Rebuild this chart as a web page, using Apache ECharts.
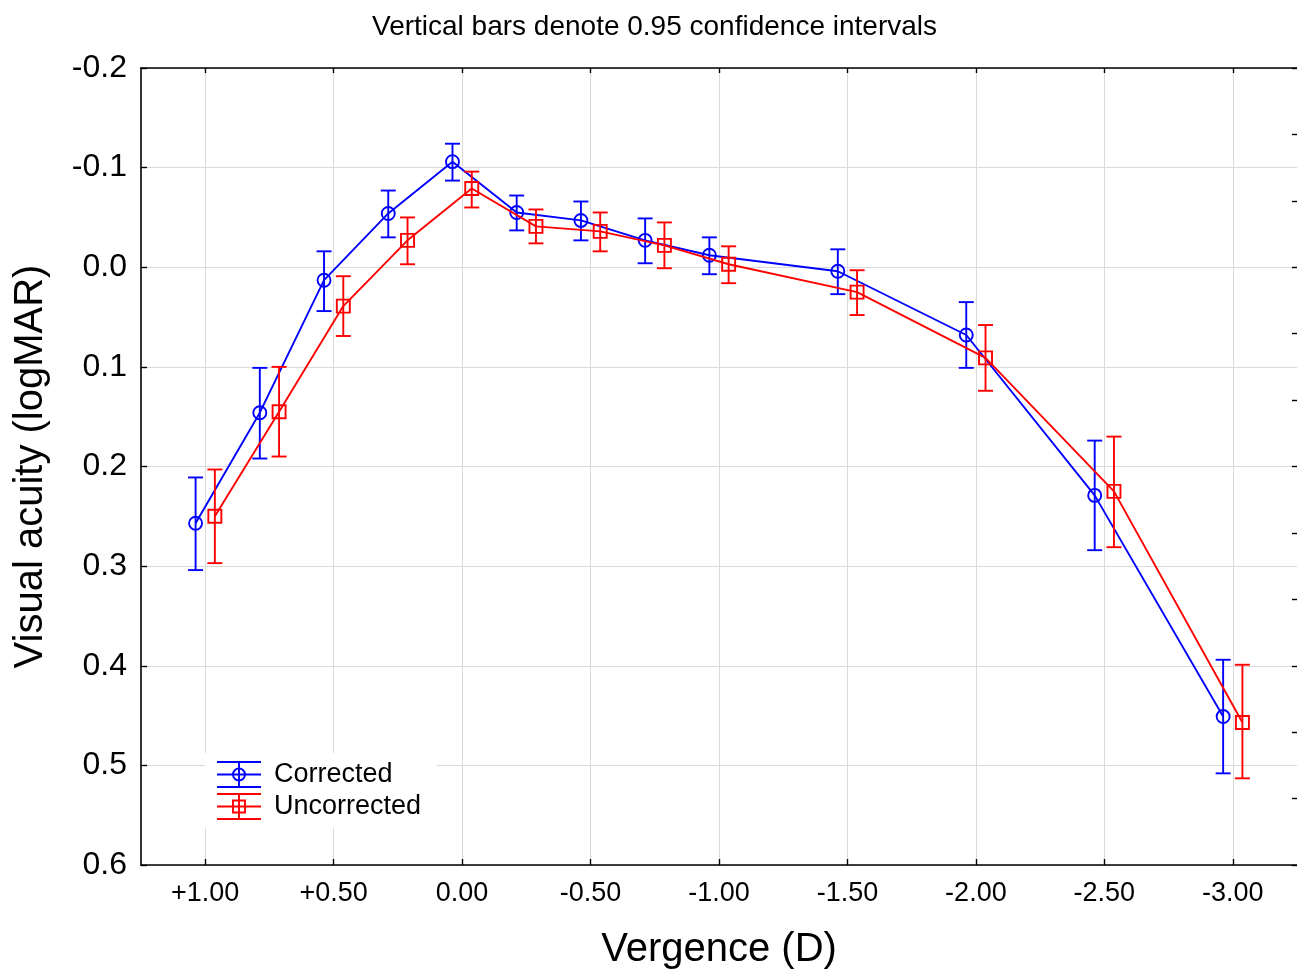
<!DOCTYPE html>
<html>
<head>
<meta charset="utf-8">
<script src="https://cdn.jsdelivr.net/npm/echarts@6/dist/echarts.min.js"></script>
<style>
  html, body { margin: 0; padding: 0; background: #fff; }
  #main { width: 1297px; height: 969px; }
</style>
</head>
<body>
<div id="main"></div>
<script>
// vergence levels (D) and tick labels
var vergence = [1.00, 0.75, 0.50, 0.25, 0.00, -0.25, -0.50, -0.75, -1.00, -1.50, -2.00, -2.50, -3.00];
var xTicks = [1.00, 0.50, 0.00, -0.50, -1.00, -1.50, -2.00, -2.50, -3.00];

// Corrected (logMAR), mean and 0.95 CI
var correctedMean = [0.257, 0.146, 0.013, -0.054, -0.106, -0.055, -0.047, -0.027, -0.012, 0.004, 0.068, 0.229, 0.451];
var correctedLow  = [0.211, 0.101, -0.016, -0.077, -0.124, -0.072, -0.066, -0.049, -0.030, -0.018, 0.035, 0.174, 0.394];
var correctedHigh = [0.304, 0.192, 0.044, -0.030, -0.087, -0.037, -0.027, -0.004, 0.007, 0.027, 0.101, 0.284, 0.508];

// Uncorrected (logMAR), mean and 0.95 CI
var uncorrectedMean = [0.250, 0.145, 0.039, -0.027, -0.079, -0.041, -0.036, -0.022, -0.003, 0.025, 0.091, 0.225, 0.457];
var uncorrectedLow  = [0.203, 0.100, 0.009, -0.050, -0.096, -0.058, -0.055, -0.045, -0.021, 0.003, 0.058, 0.170, 0.399];
var uncorrectedHigh = [0.297, 0.190, 0.069, -0.003, -0.060, -0.024, -0.016, 0.001, 0.016, 0.048, 0.124, 0.281, 0.513];

var BLUE = '#0000ff';
var RED = '#ff0000';
var FONT = 'Liberation Sans, Arial, sans-serif';
// groups are drawn slightly apart so the bars don't overlap
var SHIFT = 0.0375;

var chart = echarts.init(document.getElementById('main'));

function points(mean, shift) {
  return vergence.map(function (v, i) { return [v + shift, mean[i]]; });
}
function bars(low, high, shift) {
  return vergence.map(function (v, i) { return [v + shift, low[i], high[i]]; });
}

function errorBar(color) {
  return function (params, api) {
    var x = api.value(0);
    var p1 = api.coord([x, api.value(1)]);
    var p2 = api.coord([x, api.value(2)]);
    var w = 7.5;
    var st = { stroke: color, lineWidth: 1.9 };
    return {
      type: 'group',
      children: [
        { type: 'line', shape: { x1: p1[0], y1: p1[1], x2: p2[0], y2: p2[1] }, style: st },
        { type: 'line', shape: { x1: p1[0] - w, y1: p1[1], x2: p1[0] + w, y2: p1[1] }, style: st },
        { type: 'line', shape: { x1: p2[0] - w, y1: p2[1], x2: p2[0] + w, y2: p2[1] }, style: st }
      ]
    };
  };
}

function fmtX(v) {
  var s = Math.abs(v) < 1e-9 ? '0.00' : v.toFixed(2);
  return v > 1e-9 ? '+' + s : s;
}

// legend pieces (error-bar style icon)
function legendIcon(y0, color, marker) {
  var st = { stroke: color, lineWidth: 1.9 };
  var items = [
    { type: 'line', shape: { x1: 12, y1: y0, x2: 56, y2: y0 }, style: st },
    { type: 'line', shape: { x1: 12, y1: y0 + 12.5, x2: 56, y2: y0 + 12.5 }, style: st },
    { type: 'line', shape: { x1: 12, y1: y0 + 25, x2: 56, y2: y0 + 25 }, style: st },
    { type: 'line', shape: { x1: 34, y1: y0, x2: 34, y2: y0 + 25 }, style: st }
  ];
  if (marker === 'circle') {
    items.push({ type: 'circle', shape: { cx: 34, cy: y0 + 12.5, r: 6 }, style: { fill: 'none', stroke: color, lineWidth: 1.9 } });
  } else {
    items.push({ type: 'rect', shape: { x: 28, y: y0 + 6.5, width: 12, height: 12 }, style: { fill: 'none', stroke: color, lineWidth: 1.9 } });
  }
  return items;
}

var legendChildren = [{ type: 'rect', shape: { x: 0, y: 0, width: 232, height: 75 }, style: { fill: '#fff' } }]
  .concat(legendIcon(9, BLUE, 'circle'))
  .concat([{ type: 'text', x: 69, y: 22, style: { text: 'Corrected', fontFamily: FONT, fontSize: 27, fill: '#000', verticalAlign: 'middle' } }])
  .concat(legendIcon(41, RED, 'rect'))
  .concat([{ type: 'text', x: 69, y: 54, style: { text: 'Uncorrected', fontFamily: FONT, fontSize: 27, fill: '#000', verticalAlign: 'middle' } }]);
legendChildren.forEach(function (c) { c.z = 100; });

var option = {
  animation: false,
  textStyle: { fontFamily: FONT },
  title: {
    text: 'Vertical bars denote 0.95 confidence intervals',
    left: 367,
    top: 8,
    textStyle: { fontFamily: FONT, fontSize: 28, fontWeight: 'normal', color: '#000' }
  },
  grid: { left: 141, top: 68, right: 0, bottom: 104, containLabel: false, outerBoundsMode: 'none' },
  xAxis: [{
    type: 'value',
    min: -3.25,
    max: 1.25,
    inverse: true,
    name: 'Vergence (D)',
    nameLocation: 'middle',
    nameGap: 65,
    nameTextStyle: { fontFamily: FONT, fontSize: 40, color: '#000' },
    axisLine: { onZero: false, lineStyle: { color: '#000', width: 1.6 } },
    axisTick: { inside: true, length: 6, customValues: xTicks, lineStyle: { color: '#000', width: 1.4 } },
    axisLabel: { customValues: xTicks, formatter: fmtX, fontFamily: FONT, fontSize: 27, color: '#000', margin: 15 },
    splitLine: { show: true, lineStyle: { color: '#dadada', width: 1 } }
  }, {
    type: 'value',
    position: 'top',
    min: -3.25,
    max: 1.25,
    inverse: true,
    axisLine: { show: true, onZero: false, lineStyle: { color: '#000', width: 1.6 } },
    axisTick: { inside: true, length: 5, customValues: xTicks, lineStyle: { color: '#000', width: 1.4 } },
    axisLabel: { show: false },
    splitLine: { show: false }
  }],
  yAxis: [{
    type: 'value',
    min: -0.2,
    max: 0.6,
    interval: 0.1,
    inverse: true,
    name: 'Visual acuity (logMAR)',
    nameLocation: 'middle',
    nameGap: 90,
    nameTextStyle: { fontFamily: FONT, fontSize: 40, color: '#000' },
    axisLine: { show: true, onZero: false, lineStyle: { color: '#000', width: 1.6 } },
    axisTick: { inside: true, length: 6, lineStyle: { color: '#000', width: 1.4 } },
    axisLabel: {
      fontFamily: FONT, fontSize: 32, color: '#000', margin: 14,
      formatter: function (v) { return (Math.abs(v) < 1e-9 ? 0 : v).toFixed(1); }
    },
    splitLine: { show: true, lineStyle: { color: '#dadada', width: 1 } }
  }, {
    type: 'value',
    position: 'right',
    min: 0,
    max: 12,
    interval: 1,
    axisLine: { show: false, onZero: false },
    axisTick: { show: true, inside: true, length: 5, lineStyle: { color: '#000', width: 1.4 } },
    axisLabel: { show: false },
    splitLine: { show: false }
  }],
  series: [{
    name: 'Corrected CI',
    type: 'custom',
    xAxisIndex: 0, yAxisIndex: 0,
    renderItem: errorBar(BLUE),
    encode: { x: 0, y: [1, 2] },
    data: bars(correctedLow, correctedHigh, SHIFT),
    z: 3
  }, {
    name: 'Corrected',
    type: 'line',
    xAxisIndex: 0, yAxisIndex: 0,
    data: points(correctedMean, SHIFT),
    symbol: 'circle',
    symbolSize: 13,
    lineStyle: { color: BLUE, width: 1.9 },
    itemStyle: { color: 'rgba(0,0,0,0)', borderColor: BLUE, borderWidth: 1.9 },
    z: 4
  }, {
    name: 'Uncorrected CI',
    type: 'custom',
    xAxisIndex: 0, yAxisIndex: 0,
    renderItem: errorBar(RED),
    encode: { x: 0, y: [1, 2] },
    data: bars(uncorrectedLow, uncorrectedHigh, -SHIFT),
    z: 5
  }, {
    name: 'Uncorrected',
    type: 'line',
    xAxisIndex: 0, yAxisIndex: 0,
    data: points(uncorrectedMean, -SHIFT),
    symbol: 'rect',
    symbolSize: 13,
    lineStyle: { color: RED, width: 1.9 },
    itemStyle: { color: 'rgba(0,0,0,0)', borderColor: RED, borderWidth: 1.9 },
    z: 6
  }],
  graphic: [{
    type: 'group',
    left: 205,
    top: 753,
    z: 100,
    children: legendChildren
  }]
};

chart.setOption(option);
</script>
</body>
</html>
